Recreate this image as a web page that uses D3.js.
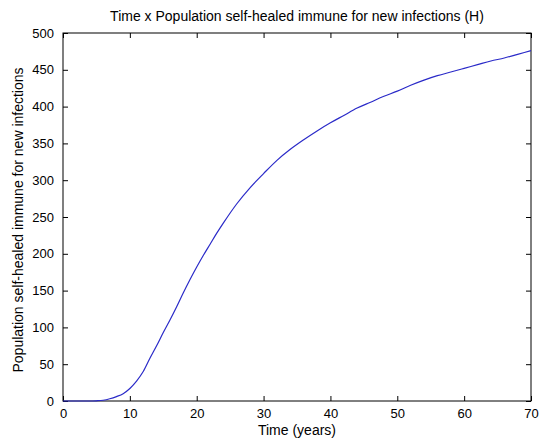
<!DOCTYPE html>
<html><head><meta charset="utf-8">
<script src="https://cdn.jsdelivr.net/npm/d3@7"></script>
<style>body{margin:0;background:#fff}svg{display:block}text{font-family:Arial,"Liberation Sans",Helvetica,sans-serif;fill:#000}</style>
</head><body>
<script>
const times = [0,2,4,5,6,7,8,9,10,11,12,13,14,15,16,17,18,19,20,21,22,23,24,26,28,30,32,34,36,38,40,42,44,46,48,50,52,54,56,58,60,62,64,66,68,70];
const values = [0,0,0,0.3,1,3,6,10,17,27,40,58,75,93,110,128,147,165,182,198,213,228,242,268,290,309,327,342,355,367,378,388,398,406,414,421,429,436,442,447,452,457,462,466,471,476];
const xTicks = [0,10,20,30,40,50,60,70];
const yTicks = [0,50,100,150,200,250,300,350,400,450,500];
const titleText = "Time x Population self-healed immune for new infections (H)";
const xLabel = "Time (years)";
const yLabel = "Population self-healed immune for new infections";

const W = 541, H = 443;
const m = {left:63, right:10, top:33, bottom:42};
const svg = d3.select("body").append("svg").attr("width", W).attr("height", H);
const x = d3.scaleLinear().domain([0,70]).range([m.left, W - m.right]);
const y = d3.scaleLinear().domain([0,500]).range([H - m.bottom, m.top]);

const tl = 5;
svg.append("g").attr("transform", `translate(0,${y(0)})`)
  .call(d3.axisBottom(x).tickValues(xTicks).tickSize(-tl).tickPadding(8).tickSizeOuter(0))
  .call(g => { g.select(".domain").remove(); g.selectAll("text").attr("font-size", 13); });
svg.append("g").attr("transform", `translate(0,${y(500)})`)
  .call(d3.axisTop(x).tickValues(xTicks).tickSize(-tl).tickFormat("").tickSizeOuter(0))
  .call(g => g.select(".domain").remove());
svg.append("g").attr("transform", `translate(${x(0)},0)`)
  .call(d3.axisLeft(y).tickValues(yTicks).tickSize(-tl).tickPadding(9).tickSizeOuter(0))
  .call(g => { g.select(".domain").remove(); g.selectAll("text").attr("font-size", 13); });
svg.append("g").attr("transform", `translate(${x(70)},0)`)
  .call(d3.axisRight(y).tickValues(yTicks).tickSize(-tl).tickFormat("").tickSizeOuter(0))
  .call(g => g.select(".domain").remove());

svg.append("rect").attr("x", x(0)).attr("y", y(500)).attr("width", x(70)-x(0)).attr("height", y(0)-y(500))
  .attr("fill", "none").attr("stroke", "#000").attr("stroke-width", 1);

const line = d3.line().x((d,i) => x(times[i])).y(d => y(d)).curve(d3.curveMonotoneX);
svg.append("path").datum(values).attr("d", line).attr("fill", "none").attr("stroke", "#2a2ac8").attr("stroke-width", 1.2);

svg.append("text").attr("x", (x(0)+x(70))/2).attr("y", 21).attr("text-anchor", "middle").attr("font-size", 14).text(titleText);
svg.append("text").attr("x", (x(0)+x(70))/2).attr("y", 435).attr("text-anchor", "middle").attr("font-size", 14).text(xLabel);
svg.append("text").attr("transform", `translate(23,${(y(0)+y(500))/2 + 3}) rotate(-90)`).attr("text-anchor", "middle").attr("font-size", 14).text(yLabel);
</script>
</body></html>
